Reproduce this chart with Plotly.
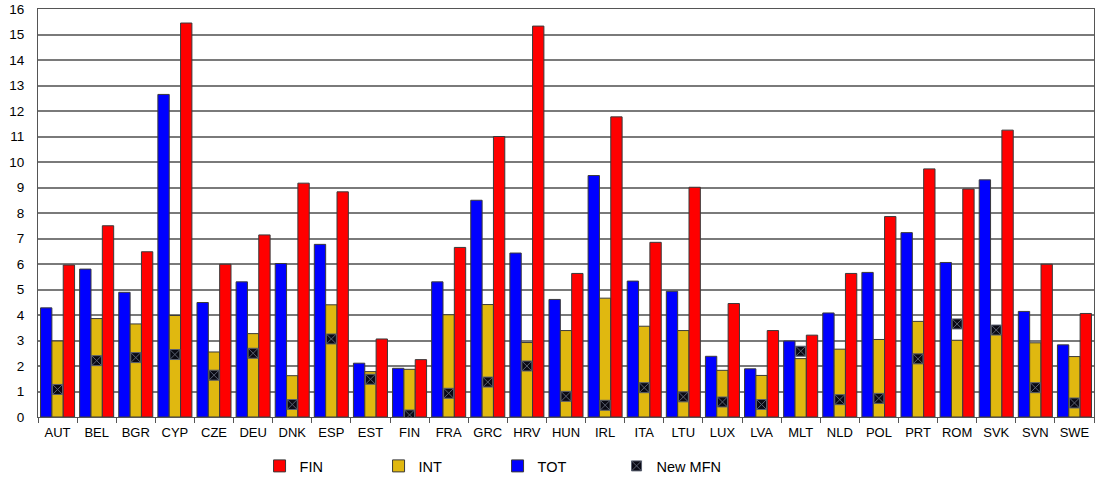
import plotly.graph_objects as go

countries = ["AUT", "BEL", "BGR", "CYP", "CZE", "DEU", "DNK", "ESP", "EST", "FIN",
             "FRA", "GRC", "HRV", "HUN", "IRL", "ITA", "LTU", "LUX", "LVA", "MLT",
             "NLD", "POL", "PRT", "ROM", "SVK", "SVN", "SWE"]

tot = [4.28, 5.80, 4.89, 12.65, 4.49, 5.30, 6.02, 6.77, 2.11, 1.91,
       5.30, 8.50, 6.43, 4.61, 9.47, 5.33, 4.93, 2.38, 1.89, 2.98,
       4.08, 5.67, 7.23, 6.06, 9.30, 4.14, 2.83]

int_ = [2.98, 3.86, 3.65, 3.98, 2.55, 3.27, 1.62, 4.40, 1.78, 1.87,
        4.01, 4.41, 2.92, 3.39, 4.66, 3.56, 3.39, 1.83, 1.63, 2.29,
        2.66, 3.04, 3.75, 3.01, 3.25, 2.91, 2.37]

fin = [5.96, 7.50, 6.48, 15.45, 5.99, 7.14, 9.17, 8.83, 3.06, 2.25,
       6.65, 11.00, 15.33, 5.63, 11.77, 6.85, 9.01, 4.45, 3.39, 3.21,
       5.63, 7.86, 9.73, 8.94, 11.25, 5.99, 4.06]

new_mfn = [1.08, 2.21, 2.33, 2.45, 1.64, 2.50, 0.49, 3.06, 1.48, 0.08,
           0.93, 1.37, 2.00, 0.81, 0.46, 1.15, 0.79, 0.59, 0.49, 2.58,
           0.68, 0.73, 2.28, 3.65, 3.41, 1.15, 0.55]

y_ticks = list(range(0, 17))

outline = dict(color="#3a3a3a", width=1)

fig = go.Figure()
fig.add_trace(go.Bar(x=countries, y=tot, name="TOT", marker=dict(color="#0000FF", line=outline), legendrank=3))
fig.add_trace(go.Bar(x=countries, y=int_, name="INT", marker=dict(color="#E0B810", line=outline), legendrank=2))
fig.add_trace(go.Bar(x=countries, y=fin, name="FIN", marker=dict(color="#FF0000", line=outline), legendrank=1))
fig.add_trace(go.Scatter(x=countries, y=new_mfn, name="New MFN", mode="markers",
                         marker=dict(symbol="square-x", size=10, color="#0a0a14",
                                     line=dict(color="#5a6070", width=1)),
                         legendrank=4))

fig.update_layout(
    width=1097, height=482,
    margin=dict(l=38, r=3, t=9, b=65, autoexpand=False),
    paper_bgcolor="white", plot_bgcolor="white",
    barmode="group", bargap=0.13, bargroupgap=0,
    font=dict(family="Liberation Sans, Arial, sans-serif", size=13, color="#000000"),
    showlegend=True,
    legend=dict(orientation="h", x=0.2098, xanchor="left", y=-0.12, yanchor="middle",
                entrywidth=74, entrywidthmode="pixels",
                font=dict(size=14.5), itemwidth=30, traceorder="normal"),
    xaxis=dict(type="category", range=[-0.5, len(countries) - 0.5], autorange=False,
               showgrid=False, showline=True, linecolor="#555555", linewidth=1,
               ticks="outside", tickson="boundaries", ticklen=5, tickcolor="#555555",
               tickangle=0, automargin=False, mirror=True, ticklabelstandoff=3,
               tickfont=dict(size=13)),
    yaxis=dict(range=[0, 16], autorange=False, tickvals=y_ticks, showgrid=True,
               gridcolor="#7a7a7a", gridwidth=1.5, automargin=False,
               showline=True, linecolor="#555555", linewidth=1, mirror=True, zeroline=False,
               ticks="", ticklabelstandoff=10, tickfont=dict(size=13.5)),
)

fig.write_html("out.html", config={"displayModeBar": False},
               post_script="document.body.style.margin='0px';")
